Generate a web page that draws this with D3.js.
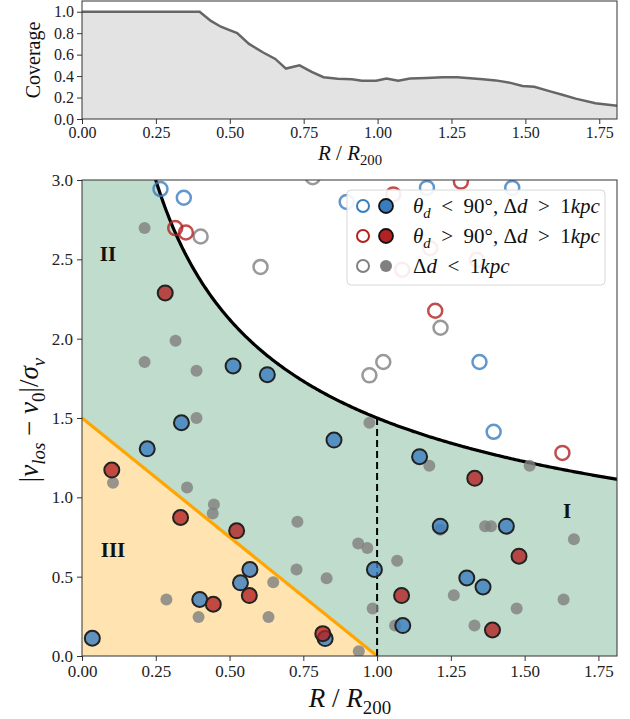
<!DOCTYPE html>
<html>
<head>
<meta charset="utf-8">
<script src="https://cdn.jsdelivr.net/npm/d3@7"></script>
<style>
  body { margin: 0; background: #fff; }
  text { font-family: "Liberation Serif", "DejaVu Serif", serif; fill: #111; }
</style>
</head>
<body>
<div class="Chart"></div>
<script>
// coverage vs R/R200 (top panel)
const coverageR = [0, 0.398, 0.436, 0.47, 0.497, 0.525, 0.565, 0.613, 0.654, 0.69, 0.736, 0.777, 0.817, 0.865, 0.913, 0.947, 0.995, 1.03, 1.07, 1.11, 1.165, 1.22, 1.27, 1.356, 1.4, 1.45, 1.49, 1.53, 1.587, 1.628, 1.67, 1.737, 1.81];
const coverage = [1.0, 1.0, 0.914, 0.86, 0.83, 0.8, 0.7, 0.62, 0.56, 0.47, 0.5, 0.44, 0.39, 0.375, 0.37, 0.356, 0.356, 0.377, 0.356, 0.377, 0.383, 0.39, 0.39, 0.371, 0.36, 0.337, 0.307, 0.3, 0.255, 0.224, 0.19, 0.147, 0.123];

// galaxies: [R/R200, |v-v0|/sigma]
const blueOpen = [[0.266, 2.943], [0.345, 2.888], [0.897, 2.862], [1.169, 2.95], [1.458, 2.95], [1.347, 1.853], [1.395, 1.413]];
const redOpen = [[0.316, 2.697], [0.352, 2.669], [1.284, 2.99], [1.197, 2.176], [1.628, 1.28], [1.055, 2.909], [1.18, 2.57], [1.338, 2.497], [1.085, 2.434]];
const greyOpen = [[0.782, 3.018], [0.402, 2.644], [0.605, 2.452], [1.215, 2.069], [1.021, 1.853], [0.974, 1.769]];
const blueFilled = [[0.512, 1.828], [0.628, 1.773], [0.337, 1.47], [0.221, 1.306], [0.854, 1.361], [1.144, 1.256], [1.214, 0.818], [1.438, 0.818], [0.991, 0.545], [1.304, 0.492], [1.359, 0.435], [1.087, 0.192], [0.569, 0.545], [0.537, 0.461], [0.399, 0.356], [0.035, 0.112], [0.824, 0.11]];
const redFilled = [[0.282, 2.288], [0.101, 1.172], [0.334, 0.873], [0.524, 0.789], [0.567, 0.381], [0.445, 0.326], [0.816, 0.141], [1.331, 1.12], [1.481, 0.629], [1.083, 0.381], [1.391, 0.164]];
const greyFilled = [[0.212, 2.697], [0.317, 1.987], [0.212, 1.853], [0.388, 1.798], [0.388, 1.5], [0.974, 1.47], [1.177, 1.199], [1.517, 1.199], [0.105, 1.092], [0.356, 1.062], [0.447, 0.955], [0.443, 0.898], [0.73, 0.846], [0.648, 0.465], [0.727, 0.545], [0.829, 0.49], [0.286, 0.356], [0.395, 0.246], [0.632, 0.246], [1.214, 0.795], [1.366, 0.818], [1.386, 0.818], [1.667, 0.736], [0.936, 0.709], [0.967, 0.681], [1.068, 0.6], [1.26, 0.383], [1.632, 0.356], [1.473, 0.299], [0.985, 0.299], [1.061, 0.192], [1.33, 0.192], [0.938, 0.03]];

const xTicks = [0, 0.25, 0.5, 0.75, 1.0, 1.25, 1.5, 1.75];
const coverageTicks = [0, 0.2, 0.4, 0.6, 0.8, 1.0];
const velTicks = [0, 0.5, 1.0, 1.5, 2.0, 2.5, 3.0];

// caustic-like boundary |v|/sigma = A / sqrt(R), and line 1.5 (1 - R)
const causticAmp = 1.5;
const innerLine = [[0, 1.5], [1.0, 0]];

const blue = "#3a7dbf", red = "#b22222", grey = "#808080";

const W = 630, H = 719;
const left = 82, right = 617;

const svg = d3.select(".Chart").append("svg").attr("width", W).attr("height", H);

function mathText(sel, parts, size) {
  let shifted = false;
  parts.forEach(p => {
    const ts = sel.append("tspan").text(p.t)
      .attr("font-style", p.it ? "italic" : "normal")
      .attr("font-size", p.sub ? size * 0.7 : size);
    if (p.sub && !shifted) { ts.attr("dy", size * 0.25); shifted = true; }
    else if (!p.sub && shifted) { ts.attr("dy", -size * 0.25); shifted = false; }
  });
}

function styleAxis(g, fs) {
  g.selectAll(".domain").remove();
  g.selectAll(".tick line").attr("stroke", "#333");
  g.selectAll(".tick text")
    .style("font-size", fs + "px")
    .style("font-family", "'Liberation Serif', 'DejaVu Serif', serif")
    .style("fill", "#222");
}

// ---------- top panel ----------
const tTop = 1, tBot = 119;
const xTop = d3.scaleLinear().domain([0, 1.81]).range([left, right]);
const yTop = d3.scaleLinear().domain([0, 1.1]).range([tBot, tTop]);
const cov = coverageR.map((r, i) => [r, coverage[i]]);

svg.append("path")
  .datum(cov)
  .attr("d", d3.area().x(d => xTop(d[0])).y0(yTop(0)).y1(d => yTop(d[1])))
  .attr("fill", "#e3e3e3");
svg.append("path")
  .datum(cov)
  .attr("d", d3.line().x(d => xTop(d[0])).y(d => yTop(d[1])))
  .attr("fill", "none").attr("stroke", "#666").attr("stroke-width", 2.5);

svg.append("g").attr("transform", "translate(0," + tBot + ")")
  .call(d3.axisBottom(xTop).tickValues(xTicks).tickFormat(d3.format(".2f")).tickSize(5).tickPadding(3))
  .call(g => styleAxis(g, 16));
svg.append("g").attr("transform", "translate(" + left + ",0)")
  .call(d3.axisLeft(yTop).tickValues(coverageTicks).tickFormat(d3.format(".1f")).tickSize(5).tickPadding(3))
  .call(g => styleAxis(g, 16));
svg.append("rect").attr("x", left).attr("y", tTop).attr("width", right - left).attr("height", tBot - tTop)
  .attr("fill", "none").attr("stroke", "#333").attr("stroke-width", 1);

svg.append("text").attr("x", 33).attr("y", 60).attr("text-anchor", "middle")
  .attr("transform", "rotate(-90,33,60)").attr("dy", "0.35em").attr("font-size", 20).text("Coverage");
mathText(svg.append("text").attr("x", 350).attr("y", 160).attr("text-anchor", "middle"),
  [{ t: "R", it: 1 }, { t: " / " }, { t: "R", it: 1 }, { t: "200", sub: 1 }], 21);

// ---------- main panel ----------
const mTop = 180, mBot = 656;
const x = d3.scaleLinear().domain([0, 1.813]).range([left, right]);
const y = d3.scaleLinear().domain([0, 3.0]).range([mBot, mTop]);

svg.append("clipPath").attr("id", "clip").append("rect")
  .attr("x", left).attr("y", mTop).attr("width", right - left).attr("height", mBot - mTop);
const plot = svg.append("g").attr("clip-path", "url(#clip)");

const causticR = d3.range(0.2, 1.85, 0.005);
const caustic = causticR.map(r => [r, causticAmp / Math.sqrt(r)]);

plot.append("path")
  .datum([[0, 4]].concat(caustic))
  .attr("d", d3.area().x(d => x(d[0])).y0(y(0)).y1(d => y(Math.min(d[1], 3.5))))
  .attr("fill", "#2e8b57").attr("fill-opacity", 0.3);
plot.append("path")
  .datum(innerLine)
  .attr("d", d3.area().x(d => x(d[0])).y0(y(0)).y1(d => y(d[1])))
  .attr("fill", "#ffe4b2");
plot.append("path")
  .datum(caustic)
  .attr("d", d3.line().x(d => x(d[0])).y(d => y(d[1])))
  .attr("fill", "none").attr("stroke", "#000").attr("stroke-width", 3.2);
plot.append("path")
  .datum(innerLine)
  .attr("d", d3.line().x(d => x(d[0])).y(d => y(d[1])))
  .attr("fill", "none").attr("stroke", "#ffa500").attr("stroke-width", 3.2);
plot.append("line")
  .attr("x1", x(1)).attr("x2", x(1)).attr("y1", y(0)).attr("y2", y(causticAmp))
  .attr("stroke", "#000").attr("stroke-width", 2).attr("stroke-dasharray", "7,4");

plot.selectAll(".gf").data(greyFilled).enter().append("circle")
  .attr("cx", d => x(d[0])).attr("cy", d => y(d[1])).attr("r", 6)
  .attr("fill", grey).attr("fill-opacity", 0.8);

[[greyOpen, grey], [blueOpen, blue], [redOpen, red]].forEach(([set, c]) => {
  plot.selectAll(null).data(set).enter().append("circle")
    .attr("cx", d => x(d[0])).attr("cy", d => y(d[1])).attr("r", 7)
    .attr("fill", "none").attr("stroke", c).attr("stroke-opacity", 0.8).attr("stroke-width", 2.5);
});

[[blueFilled, blue], [redFilled, red]].forEach(([set, c]) => {
  plot.selectAll(null).data(set).enter().append("circle")
    .attr("cx", d => x(d[0])).attr("cy", d => y(d[1])).attr("r", 7.5)
    .attr("fill", c).attr("fill-opacity", 0.8)
    .attr("stroke", "#222").attr("stroke-width", 2);
});

// region labels
plot.append("text").attr("x", 108).attr("y", 261).attr("text-anchor", "middle").attr("font-size", 21).attr("font-weight", "bold").text("II");
plot.append("text").attr("x", 113).attr("y", 557).attr("text-anchor", "middle").attr("font-size", 21).attr("font-weight", "bold").text("III");
plot.append("text").attr("x", 567).attr("y", 518).attr("text-anchor", "middle").attr("font-size", 21).attr("font-weight", "bold").text("I");

svg.append("g").attr("transform", "translate(0," + mBot + ")")
  .call(d3.axisBottom(x).tickValues(xTicks).tickFormat(d3.format(".2f")).tickSize(5).tickPadding(4))
  .call(g => styleAxis(g, 17));
svg.append("g").attr("transform", "translate(" + left + ",0)")
  .call(d3.axisLeft(y).tickValues(velTicks).tickFormat(d3.format(".1f")).tickSize(5).tickPadding(4))
  .call(g => styleAxis(g, 17));
svg.append("rect").attr("x", left).attr("y", mTop).attr("width", right - left).attr("height", mBot - mTop)
  .attr("fill", "none").attr("stroke", "#333").attr("stroke-width", 1);

mathText(svg.append("text").attr("x", 350).attr("y", 707).attr("text-anchor", "middle"),
  [{ t: "R", it: 1 }, { t: " / " }, { t: "R", it: 1 }, { t: "200", sub: 1 }], 27);
mathText(svg.append("text").attr("x", 0).attr("y", 0).attr("text-anchor", "middle")
  .attr("transform", "translate(38,420) rotate(-90)"),
  [{ t: "|" }, { t: "v", it: 1 }, { t: "los", it: 1, sub: 1 }, { t: " − " }, { t: "v", it: 1 }, { t: "0", sub: 1 }, { t: "|/" }, { t: "σ", it: 1 }, { t: "v", it: 1, sub: 1 }], 27);

// legend
const leg = svg.append("g");
leg.append("rect").attr("x", 347).attr("y", 190).attr("width", 258).attr("height", 95).attr("rx", 4)
  .attr("fill", "#fff").attr("fill-opacity", 0.9).attr("stroke", "#d8d8d8");
const sp = "\u2002";
const legRows = [
  { c: blue, parts: [{ t: "θ", it: 1 }, { t: "d", it: 1, sub: 1 }, { t: sp + "<" + sp + "90°, Δ" }, { t: "d", it: 1 }, { t: sp + ">" + sp + "1" }, { t: "kpc", it: 1 }] },
  { c: red, parts: [{ t: "θ", it: 1 }, { t: "d", it: 1, sub: 1 }, { t: sp + ">" + sp + "90°, Δ" }, { t: "d", it: 1 }, { t: sp + ">" + sp + "1" }, { t: "kpc", it: 1 }] },
  { c: grey, parts: [{ t: "Δ" }, { t: "d", it: 1 }, { t: sp + "<" + sp + "1" }, { t: "kpc", it: 1 }] }
];
legRows.forEach((row, i) => {
  const cy = 206 + i * 30;
  leg.append("circle").attr("cx", 363).attr("cy", cy).attr("r", 6)
    .attr("fill", "none").attr("stroke", row.c).attr("stroke-width", 2);
  const f = leg.append("circle").attr("cx", 386).attr("cy", cy).attr("r", 7).attr("fill", row.c);
  if (i < 2) f.attr("stroke", "#111").attr("stroke-width", 1.8);
  else f.attr("r", 6);
  mathText(leg.append("text").attr("x", 413).attr("y", cy + 7), row.parts, 21);
});
</script>
</body>
</html>
